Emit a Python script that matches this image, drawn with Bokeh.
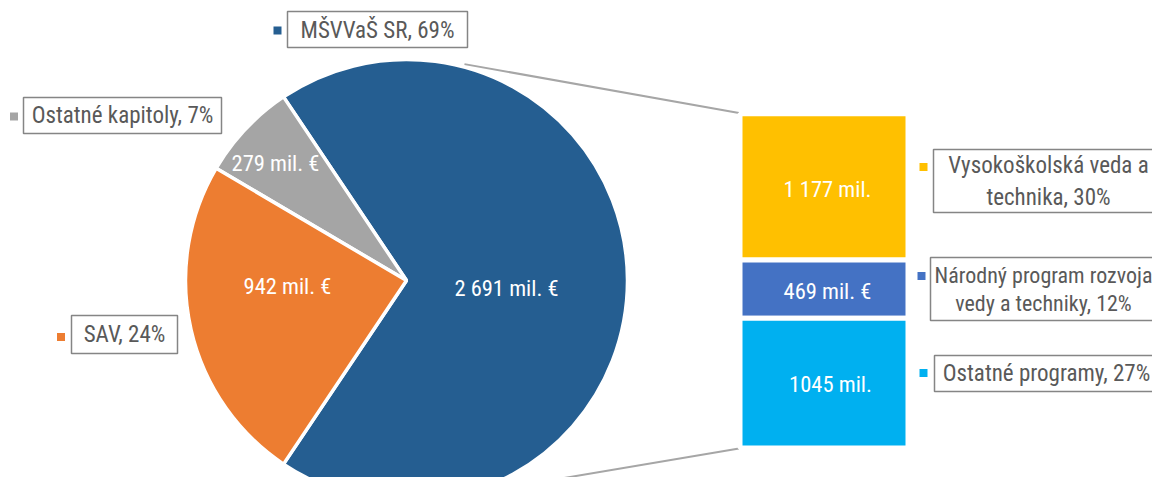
import math
from bokeh.plotting import figure
from bokeh.models import Range1d, ColumnDataSource
from bokeh.core.properties import value
from bokeh.embed import file_html
from bokeh.resources import INLINE

# ---------------- data ----------------
pie_categories = ["MŠVVaŠ SR", "Ostatné kapitoly", "SAV"]
pie_values = [2691, 279, 942]
pie_percent = [69, 7, 24]
pie_value_labels = ["2 691 mil. €", "279 mil. €", "942 mil. €"]

bar_categories = ["Vysokoškolská veda a\ntechnika", "Národný program rozvoja\nvedy a techniky", "Ostatné programy"]
bar_values = [1177, 469, 1045]
bar_percent = [30, 12, 27]
bar_value_labels = ["1 177 mil.", "469 mil. €", "1045 mil."]

pie_colors = ["#255E91", "#A5A5A5", "#ED7D31"]
bar_colors = ["#FFC000", "#4472C4", "#00B0F0"]

# ---------------- layout (reference pixel coords, y down) ----------------
H = 493
def Y(y):
    return H - y

FONT = value("'Roboto Condensed', 'DejaVu Sans Condensed', 'Arial Narrow', Roboto")
TXT = "#595959"
BOX_LINE = "#858585"

cx, cy, R = 406, 280, 221

p = figure(width=1152, height=477, x_range=Range1d(0, 1152), y_range=Range1d(H - 477, H),
           output_backend="svg", toolbar_location=None, min_border=0,
           x_axis_location=None, y_axis_location=None)
p.grid.visible = False
p.outline_line_color = None
p.background_fill_color = "white"

# ---------------- pie ----------------
total = sum(pie_values)
half = math.pi * pie_values[0] / total
starts, ends = [], []
a = -half
for v in pie_values:
    starts.append(a)
    a += 2 * math.pi * v / total
    ends.append(a)
pie_src = ColumnDataSource(dict(start=starts, end=ends, color=pie_colors))
p.wedge(x=cx, y=Y(cy), radius=R, start_angle="start", end_angle="end",
        fill_color="color", line_color="white", line_width=3.5, source=pie_src)

# connector lines
top_a, bot_a = math.radians(75), math.radians(-71)
rx = R + 3
p.segment(x0=[cx + rx * math.cos(top_a), cx + rx * math.cos(bot_a)],
          y0=[Y(cy) + rx * math.sin(top_a), Y(cy) + rx * math.sin(bot_a)],
          x1=[738.5, 738.5], y1=[Y(112.5), Y(448)],
          line_color="#A6A6A6", line_width=2)

# ---------------- bar ----------------
bar_top, bar_bot = Y(113.2), Y(447.5)
scale = (bar_top - bar_bot) / sum(bar_values)
tops, bots = [], []
t = bar_top
for v in bar_values:
    tops.append(t)
    t -= v * scale
    bots.append(t)
bar_src = ColumnDataSource(dict(top=tops, bottom=bots, color=bar_colors))
p.quad(left=739.5, right=907.5, top="top", bottom="bottom", fill_color="color",
       line_color="white", line_width=5, source=bar_src)

# ---------------- value labels ----------------
pie_lab_pos = [(506, 287), (275, 162), (287, 285)]
bar_lab_pos = [(827, 188), (827, 290), (830, 383)]
vals_x = [q[0] for q in pie_lab_pos + bar_lab_pos]
vals_y = [Y(q[1]) for q in pie_lab_pos + bar_lab_pos]
p.text(x=vals_x, y=vals_y, text=pie_value_labels + bar_value_labels,
       text_color="white", text_font=FONT, text_font_size="22.5px",
       text_align="center", text_baseline="middle")

# ---------------- category label boxes ----------------
boxes = [(287, 467, 11, 47), (23, 221, 97, 133), (71, 177, 315, 353),
         (933, 1163, 149, 212), (930, 1175, 257, 320), (934, 1158, 355, 391)]
markers = [(277, 30), (13.5, 116), (60.5, 336.5), (923, 166.5), (921, 275.5), (923, 372.5)]
text_c = [(377, 29.5), (122, 115), (124, 334), (1048, 181), (1043, 289), (1046, 373)]
text_sizes = ["23px", "23px", "23px", "23px", "22px", "23px"]

labels = [f"{c}, {pc}%" for c, pc in zip(pie_categories, pie_percent)] + \
         [f"{c}, {pc}%" for c, pc in zip(bar_categories, bar_percent)]
colors = pie_colors + bar_colors

p.quad(left=[b[0] for b in boxes], right=[b[1] for b in boxes],
       top=[Y(b[2]) for b in boxes], bottom=[Y(b[3]) for b in boxes],
       fill_color="white", line_color=BOX_LINE, line_width=1.5)
p.rect(x=[m[0] for m in markers], y=[Y(m[1]) for m in markers], width=8, height=8,
       fill_color=colors, line_color=None)
lab_src = ColumnDataSource(dict(x=[c[0] for c in text_c], y=[Y(c[1]) for c in text_c],
                                text=labels, size=text_sizes))
p.text(x="x", y="y", text="text", source=lab_src,
       text_color=TXT, text_font=FONT, text_font_size="size",
       text_align="center", text_baseline="middle", text_line_height=1.15)

open("out.html", "w").write(file_html(p, INLINE))
